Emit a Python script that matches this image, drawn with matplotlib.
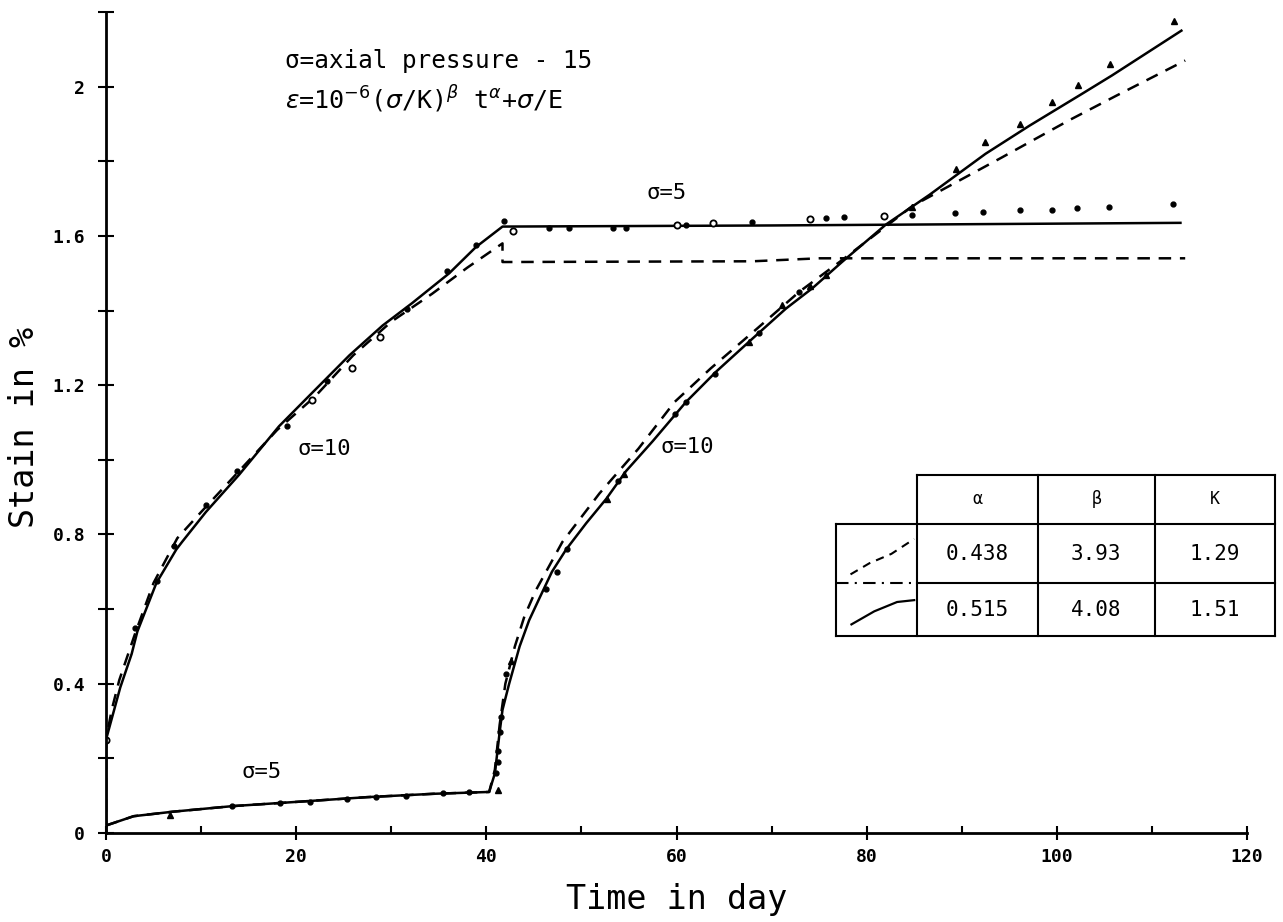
import matplotlib
matplotlib.use("Agg")
import matplotlib.pyplot as plt
from matplotlib.ticker import FixedLocator

MONO = "DejaVu Sans Mono"

# creep test A: sigma=10 for ~42 days, then sigma=5
a_solid_t = [0, 0, 0.75, 1.5, 2.7, 3.3, 5.3, 7.4, 8.0, 10.5, 14.0, 18.2, 21.7, 25.6, 29.1, 32.2,
             36.1, 38.9, 41.7, 70.0, 113.0]
a_solid_e = [0.0, 0.25, 0.32, 0.39, 0.48, 0.54, 0.67, 0.76, 0.78, 0.86, 0.96, 1.09, 1.18, 1.28, 1.36, 1.42,
             1.50, 1.57, 1.625, 1.628, 1.635]
a_dash_t = [0, 0, 0.6, 1.4, 3.0, 5.0, 7.5, 10.0, 14.0, 18.0, 22.0, 26.0, 30.0, 34.3, 38.0, 41.7,
            41.7, 68.0, 75.0, 113.5]
a_dash_e = [0.0, 0.25, 0.33, 0.41, 0.53, 0.67, 0.79, 0.86, 0.97, 1.08, 1.17, 1.28, 1.37, 1.445, 1.515, 1.58,
            1.53, 1.532, 1.54, 1.54]

# creep test B: sigma=5 for ~41 days, then sigma=10
b_solid_t = [0, 2.9, 7.0, 13.3, 20.4, 27.4, 34.4, 40.3, 40.9, 41.4, 41.7, 42.4, 43.5, 44.5, 45.6, 46.9, 48.4,
             50.5, 52.6, 54.7, 57.5, 61.0, 64.2, 68.0, 71.5, 74.3, 77.4, 82.0, 86.6, 92.5, 97.1, 102.6,
             105.8, 113.1]
b_solid_e = [0.02, 0.045, 0.057, 0.072, 0.084, 0.096, 0.105, 0.11, 0.16, 0.27, 0.33, 0.40, 0.50, 0.57, 0.63,
             0.70, 0.76, 0.83, 0.895, 0.97, 1.05, 1.155, 1.237, 1.325, 1.405, 1.46, 1.53, 1.63, 1.71, 1.82,
             1.895, 1.98, 2.03, 2.15]
b_dash_t = [0, 2.9, 7.0, 13.3, 20.4, 27.4, 34.4, 40.3, 40.9, 41.4, 42.0, 43.0, 44.0, 45.2, 48.0, 51.9, 56.0,
            59.8, 63.6, 68.4, 72.9, 77.4, 82.0, 84.8, 94.2, 101.3, 106.2, 113.5]
b_dash_e = [0.02, 0.045, 0.057, 0.072, 0.084, 0.096, 0.105, 0.11, 0.17, 0.29, 0.40, 0.50, 0.58, 0.65, 0.78,
            0.91, 1.03, 1.155, 1.245, 1.35, 1.45, 1.535, 1.625, 1.68, 1.81, 1.91, 1.975, 2.07]

# measured points
a_dot_t = [3.0, 5.4, 7.2, 10.5, 13.8, 19.0, 23.2, 31.7, 35.9, 38.9, 41.9, 46.6, 48.7, 53.3, 54.7, 61.0,
           67.9, 75.7, 77.6, 84.8, 89.3, 92.2, 96.1, 99.5, 102.1, 105.5, 112.2]
a_dot_e = [0.55, 0.675, 0.77, 0.88, 0.97, 1.09, 1.21, 1.405, 1.505, 1.575, 1.64, 1.62, 1.62, 1.62, 1.62, 1.63,
           1.637, 1.648, 1.652, 1.656, 1.661, 1.664, 1.669, 1.67, 1.675, 1.677, 1.686]
a_open_t = [0.0, 21.7, 25.9, 28.8, 42.8, 60.0, 63.8, 74.0, 81.8]
a_open_e = [0.25, 1.16, 1.245, 1.33, 1.613, 1.63, 1.635, 1.645, 1.653]
b_tri_t = [6.7, 41.2, 42.6, 52.7, 54.5, 67.6, 71.1, 74.0, 75.7, 84.8, 89.4, 92.4, 96.1, 99.5, 102.2, 105.6, 112.3]
b_tri_e = [0.048, 0.115, 0.46, 0.895, 0.962, 1.317, 1.415, 1.465, 1.495, 1.677, 1.78, 1.852, 1.90, 1.96, 2.005,
           2.06, 2.175]
b_dot_t = [13.3, 18.3, 21.5, 25.3, 28.4, 31.6, 35.4, 38.2, 41.0, 41.2, 41.2, 41.4, 41.5, 42.1, 46.3, 47.4, 48.5,
           53.8, 59.8, 61.0, 64.0, 68.7, 72.9]
b_dot_e = [0.072, 0.08, 0.083, 0.092, 0.097, 0.10, 0.107, 0.11, 0.16, 0.19, 0.22, 0.27, 0.31, 0.425, 0.653, 0.70,
           0.76, 0.944, 1.124, 1.155, 1.23, 1.34, 1.45]

# fitted parameters (legend table)
table_header = ["\u03b1", "\u03b2", "K"]
fit_dashed = ["0.438", "3.93", "1.29"]
fit_solid = ["0.515", "4.08", "1.51"]

x_ticks = [0, 20, 40, 60, 80, 100, 120]
y_ticks = [0, 0.2, 0.4, 0.6, 0.8, 1.0, 1.2, 1.4, 1.6, 1.8, 2.0, 2.2]
y_tick_labels = ["0", "", "0.4", "", "0.8", "", "1.2", "", "1.6", "", "2", ""]

fig = plt.figure(figsize=(12.83, 9.22), dpi=100)
ax = fig.add_axes([106 / 1283, 89 / 922, 1141 / 1283, 821 / 922])

lw = 1.8
ax.plot(a_solid_t, a_solid_e, color="black", lw=lw)
ax.plot(b_solid_t, b_solid_e, color="black", lw=lw)
ax.plot(a_dash_t, a_dash_e, color="black", lw=lw, dashes=(5, 3.5))
ax.plot(b_dash_t, b_dash_e, color="black", lw=lw, dashes=(5, 3.5))

ax.plot(a_dot_t, a_dot_e, "o", color="black", ms=3.5)
ax.plot(a_open_t, a_open_e, "o", mfc="white", mec="black", mew=1.3, ms=4.5)
ax.plot(b_tri_t, b_tri_e, "^", color="black", ms=4.5)
ax.plot(b_dot_t, b_dot_e, "o", color="black", ms=3.5)

ax.set_xlim(0, 120)
ax.set_ylim(0, 2.2)
for side in ("top", "right"):
    ax.spines[side].set_visible(False)
for side in ("left", "bottom"):
    ax.spines[side].set_linewidth(2)

ax.xaxis.set_major_locator(FixedLocator(x_ticks))
ax.xaxis.set_minor_locator(FixedLocator([10, 30, 50, 70, 90, 110]))
ax.set_xticklabels([str(v) for v in x_ticks])
ax.yaxis.set_major_locator(FixedLocator(y_ticks))
ax.set_yticklabels(y_tick_labels)
ax.tick_params(axis="x", which="major", direction="inout", length=10, width=1.5, pad=6,
               labelsize=13)
ax.tick_params(axis="x", which="minor", direction="in", length=5, width=1.5)
ax.tick_params(axis="y", which="major", direction="inout", length=12, width=1.5, pad=9,
               labelsize=13)
for lab in ax.get_xticklabels() + ax.get_yticklabels():
    lab.set_family(MONO)
    lab.set_weight("bold")

ax.set_xlabel("Time in day", fontsize=24, family=MONO, labelpad=12)
ylab = ax.set_ylabel("Stain in %", fontsize=24, family=MONO)
ax.yaxis.set_label_coords(-0.071, 0.494)
ylab.set_va("center")

txt = dict(family=MONO, color="black")
ax.text(18.8, 2.07, "\u03c3=axial pressure - 15", fontsize=17.5, va="center", **txt)
ax.text(18.8, 1.965, r"$\epsilon$=10$^{-6}$($\sigma$/K)$^{\beta}$ t$^{\alpha}$+$\sigma$/E",
        fontsize=18, va="center", **txt)
ax.text(16.4, 0.164, "\u03c3=5", fontsize=16, ha="center", va="center", **txt)
ax.text(23.0, 1.03, "\u03c3=10", fontsize=16, ha="center", va="center", **txt)
ax.text(59.0, 1.715, "\u03c3=5", fontsize=16, ha="center", va="center", **txt)
ax.text(61.1, 1.035, "\u03c3=10", fontsize=16, ha="center", va="center", **txt)

# legend table (data coordinates, extends past the axis end)
xl, x1, x2, x3, xr = 76.8, 85.3, 98.0, 110.3, 122.9
yt, yh, ym, yb = 0.96, 0.828, 0.669, 0.527
tl = dict(color="black", lw=1.5, clip_on=False)
ax.plot([x1, xr], [yt, yt], **tl)
ax.plot([xl, xr], [yh, yh], **tl)
ax.plot([xl, x1], [ym, ym], color="black", lw=1.5, clip_on=False, dashes=(6, 3, 1, 3))
ax.plot([x1, xr], [ym, ym], **tl)
ax.plot([xl, xr], [yb, yb], **tl)
ax.plot([xl, xl], [yh, yb], **tl)
for xv in (x1, x2, x3, xr):
    ax.plot([xv, xv], [yt, yb], **tl)

col_c = [(x1 + x2) / 2, (x2 + x3) / 2, (x3 + xr) / 2]
for xc, h, d, s in zip(col_c, table_header, fit_dashed, fit_solid):
    ax.text(xc, (yt + yh) / 2, h, fontsize=12, ha="center", va="center", clip_on=False, **txt)
    ax.text(xc, (yh + ym) / 2, d, fontsize=15, ha="center", va="center", clip_on=False, **txt)
    ax.text(xc, (ym + yb) / 2, s, fontsize=15, ha="center", va="center", clip_on=False, **txt)

# line samples in the first column
ax.plot([xl + 1.5, xl + 3.5, xl + 5.8, xl + 8.2], [yh - 0.135, yh - 0.105, yh - 0.08, yh - 0.04],
        color="black", lw=1.5, dashes=(4, 3), clip_on=False)
ax.plot([xl + 1.6, xl + 4.0, xl + 6.4, xl + 8.2], [ym - 0.11, ym - 0.075, ym - 0.05, ym - 0.045],
        color="black", lw=1.6, clip_on=False)

fig.savefig("out.png", dpi=100, facecolor="white")
